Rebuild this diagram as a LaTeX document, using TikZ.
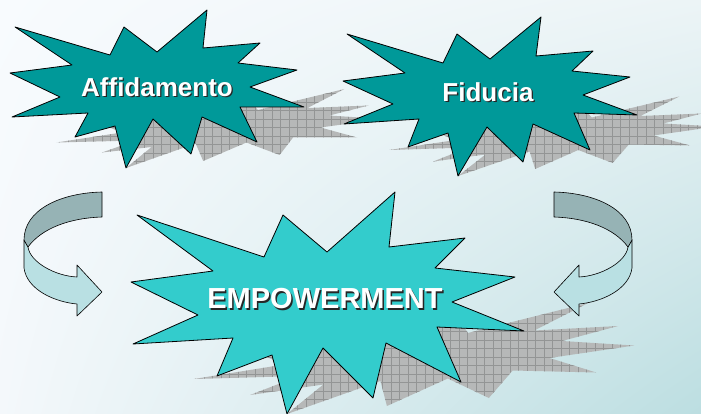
\documentclass[tikz,border=0pt]{standalone}
\usepackage{fontspec}
\setmainfont{Liberation Sans}
\usetikzlibrary{shadings}
\definecolor{darkteal}{HTML}{009999}
\definecolor{lightteal}{HTML}{33CCCC}
\definecolor{arrdark}{HTML}{96B3B5}
\definecolor{arrlight}{HTML}{B9E0E3}
\definecolor{shgrey}{HTML}{B6B8B8}
\definecolor{shline}{HTML}{939595}
\definecolor{bgUL}{HTML}{F8FBFE}
\definecolor{bgUR}{HTML}{ECF4F6}
\definecolor{bgLL}{HTML}{F4F8FB}
\definecolor{bgLR}{HTML}{BCDEE1}
\tikzset{
  starshape/.style={draw=black, line width=0.8pt, line join=round},
  arrowpart/.style={draw=black, line width=0.6pt, line join=round},
  gridline/.style={draw=shline, line width=0.5pt},
  lbl/.style={text=white, font=\bfseries\fontsize{26}{30}\selectfont, inner sep=0pt},
  lblshadow/.style={text=black!85, font=\bfseries\fontsize{26}{30}\selectfont, inner sep=0pt},
  biglbl/.style={text=white, font=\bfseries\fontsize{29}{33}\selectfont, inner sep=0pt},
  biglblshadow/.style={text=black!85, font=\bfseries\fontsize{29}{33}\selectfont, inner sep=0pt},
}
\def\starAff{(15,27) -- (110,55) -- (124,27) -- (157,52) -- (207,10) -- (203,48) -- (260,43) -- (238,63) -- (297,70) -- (250,87) -- (304,107) -- (240,107) -- (257,142) -- (202,117) -- (191,154) -- (153,119) -- (126,168) -- (115,126) -- (75,137) -- (88,113) -- (12,117) -- (60,97) -- (10,73) -- (72,65) -- cycle}
\def\starFid{(347,34) -- (443,63) -- (457,34) -- (490,59) -- (541,17) -- (536,56) -- (593,51) -- (572,71) -- (630,77) -- (583,95) -- (637,115) -- (574,113) -- (590,150) -- (533,124) -- (523,162) -- (487,127) -- (458,176) -- (448,133) -- (408,147) -- (419,119) -- (344,124) -- (393,104) -- (343,81) -- (405,73) -- cycle}
\def\starEmp{(137,215) -- (264,257) -- (283,215) -- (327,252) -- (395,192) -- (389,247) -- (465,238) -- (435,268) -- (515,277) -- (452,302) -- (524,331) -- (437,327) -- (461,382) -- (386,343) -- (373,398) -- (323,348) -- (287,414) -- (272,355) -- (217,376) -- (233,338) -- (133,344) -- (198,315) -- (131,282) -- (213,271) -- cycle}
\def\arrDark{(102,192) .. controls (60,193) and (24,210) .. (24,240) -- (28,247) .. controls (42,228) and (70,218) .. (102,217) -- cycle}
\def\arrLight{(24,240) -- (24,268) .. controls (27,290) and (55,302) .. (77,304) -- (77,316) -- (102,292) -- (77,265) -- (77,277) .. controls (55,276) and (30,262) .. (28,247) -- cycle}
\newcommand\shadowgrid{%
  \fill[shgrey] (0,0) rectangle (701,414);
  \foreach \g in {0,8.5,...,705} \draw[gridline] (\g,0) -- (\g,414);
  \foreach \g in {0,8.5,...,418} \draw[gridline] (0,\g) -- (701,\g);
}
\begin{document}
\begin{tikzpicture}[x=1pt,y=-1pt]
  \useasboundingbox (0,0) rectangle (701,414);
  % background
  \shade[upper left=bgUL, upper right=bgUR, lower left=bgLL, lower right=bgLR] (0,0) rectangle (701,414);
  % perspective shadows
  \begin{scope}
    \clip[cm={1,0,0.87,0.5,(146.16pt,-84pt)}] \starAff;
    \shadowgrid
  \end{scope}
  \begin{scope}
    \clip[cm={1,0,0.87,0.5,(153.12pt,-88pt)}] \starFid;
    \shadowgrid
  \end{scope}
  \begin{scope}
    \clip[cm={1,0,0.87,0.5,(360.18pt,-207pt)}] \starEmp;
    \shadowgrid
  \end{scope}
  % stars
  \path[starshape, fill=darkteal] \starAff;
  \path[starshape, fill=darkteal] \starFid;
  \path[starshape, fill=lightteal] \starEmp;
  % curved arrows
  \path[arrowpart, fill=arrlight] \arrLight;
  \path[arrowpart, fill=arrdark] \arrDark;
  \begin{scope}[xshift=656pt, xscale=-1]
    \path[arrowpart, fill=arrlight] \arrLight;
    \path[arrowpart, fill=arrdark] \arrDark;
  \end{scope}
  % labels
  \node[lblshadow] (affs) at (158.3,88.3) {Affidamento};
  \node[lbl] (aff) at (157,87) {Affidamento};
  \node[lblshadow] (fids) at (489.3,93.3) {Fiducia};
  \node[lbl] (fid) at (488,92) {Fiducia};
  \node[biglblshadow] (emps) at (326.5,300.5) {EMPOWERMENT};
  \node[biglbl] (emp) at (325,299) {EMPOWERMENT};
\end{tikzpicture}
\end{document}
